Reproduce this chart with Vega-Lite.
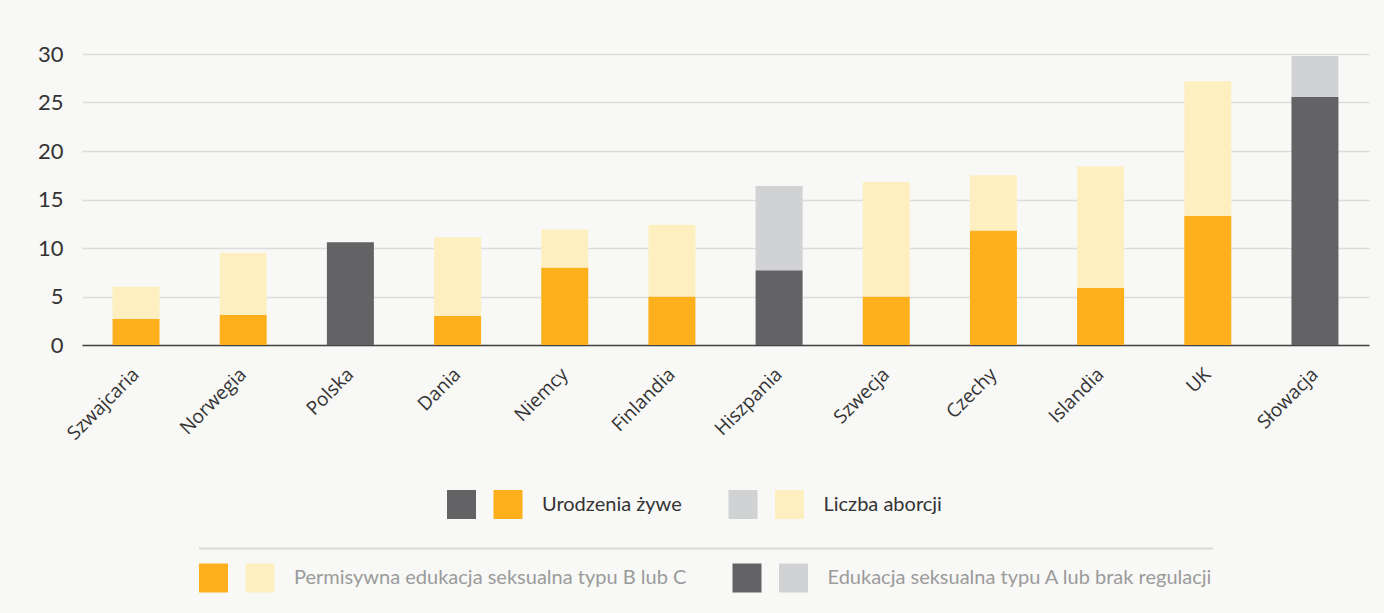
{
  "$schema": "https://vega.github.io/schema/vega-lite/v6.json",
  "autosize": {"type": "none"},
  "width": 1287,
  "height": 291,
  "padding": {"left": 82, "top": 54, "right": 15, "bottom": 268},
  "background": "#F8F8F6",
  "config": {"view": {"stroke": null}, "font": "Lato", "legend": {"strokeWidth": 2, "strokeDash": [0, 14, 1014, 100000]}},
  "data": {
    "values": [
      {"kraj": "Szwajcaria", "typ": "Urodzenia żywe", "grupa": "Permisywna edukacja seksualna typu B lub C", "kat": "BC urodzenia", "wartosc": 2.7},
      {"kraj": "Szwajcaria", "typ": "Liczba aborcji", "grupa": "Permisywna edukacja seksualna typu B lub C", "kat": "BC aborcje", "wartosc": 3.3},
      {"kraj": "Norwegia", "typ": "Urodzenia żywe", "grupa": "Permisywna edukacja seksualna typu B lub C", "kat": "BC urodzenia", "wartosc": 3.1},
      {"kraj": "Norwegia", "typ": "Liczba aborcji", "grupa": "Permisywna edukacja seksualna typu B lub C", "kat": "BC aborcje", "wartosc": 6.4},
      {"kraj": "Polska", "typ": "Urodzenia żywe", "grupa": "Edukacja seksualna typu A lub brak regulacji", "kat": "A urodzenia", "wartosc": 10.6},
      {"kraj": "Polska", "typ": "Liczba aborcji", "grupa": "Edukacja seksualna typu A lub brak regulacji", "kat": "A aborcje", "wartosc": 0},
      {"kraj": "Dania", "typ": "Urodzenia żywe", "grupa": "Permisywna edukacja seksualna typu B lub C", "kat": "BC urodzenia", "wartosc": 3.0},
      {"kraj": "Dania", "typ": "Liczba aborcji", "grupa": "Permisywna edukacja seksualna typu B lub C", "kat": "BC aborcje", "wartosc": 8.1},
      {"kraj": "Niemcy", "typ": "Urodzenia żywe", "grupa": "Permisywna edukacja seksualna typu B lub C", "kat": "BC urodzenia", "wartosc": 8.0},
      {"kraj": "Niemcy", "typ": "Liczba aborcji", "grupa": "Permisywna edukacja seksualna typu B lub C", "kat": "BC aborcje", "wartosc": 3.9},
      {"kraj": "Finlandia", "typ": "Urodzenia żywe", "grupa": "Permisywna edukacja seksualna typu B lub C", "kat": "BC urodzenia", "wartosc": 5.0},
      {"kraj": "Finlandia", "typ": "Liczba aborcji", "grupa": "Permisywna edukacja seksualna typu B lub C", "kat": "BC aborcje", "wartosc": 7.4},
      {"kraj": "Hiszpania", "typ": "Urodzenia żywe", "grupa": "Edukacja seksualna typu A lub brak regulacji", "kat": "A urodzenia", "wartosc": 7.7},
      {"kraj": "Hiszpania", "typ": "Liczba aborcji", "grupa": "Edukacja seksualna typu A lub brak regulacji", "kat": "A aborcje", "wartosc": 8.7},
      {"kraj": "Szwecja", "typ": "Urodzenia żywe", "grupa": "Permisywna edukacja seksualna typu B lub C", "kat": "BC urodzenia", "wartosc": 5.0},
      {"kraj": "Szwecja", "typ": "Liczba aborcji", "grupa": "Permisywna edukacja seksualna typu B lub C", "kat": "BC aborcje", "wartosc": 11.8},
      {"kraj": "Czechy", "typ": "Urodzenia żywe", "grupa": "Permisywna edukacja seksualna typu B lub C", "kat": "BC urodzenia", "wartosc": 11.8},
      {"kraj": "Czechy", "typ": "Liczba aborcji", "grupa": "Permisywna edukacja seksualna typu B lub C", "kat": "BC aborcje", "wartosc": 5.7},
      {"kraj": "Islandia", "typ": "Urodzenia żywe", "grupa": "Permisywna edukacja seksualna typu B lub C", "kat": "BC urodzenia", "wartosc": 5.9},
      {"kraj": "Islandia", "typ": "Liczba aborcji", "grupa": "Permisywna edukacja seksualna typu B lub C", "kat": "BC aborcje", "wartosc": 12.5},
      {"kraj": "UK", "typ": "Urodzenia żywe", "grupa": "Permisywna edukacja seksualna typu B lub C", "kat": "BC urodzenia", "wartosc": 13.3},
      {"kraj": "UK", "typ": "Liczba aborcji", "grupa": "Permisywna edukacja seksualna typu B lub C", "kat": "BC aborcje", "wartosc": 13.9},
      {"kraj": "Słowacja", "typ": "Urodzenia żywe", "grupa": "Edukacja seksualna typu A lub brak regulacji", "kat": "A urodzenia", "wartosc": 25.6},
      {"kraj": "Słowacja", "typ": "Liczba aborcji", "grupa": "Edukacja seksualna typu A lub brak regulacji", "kat": "A aborcje", "wartosc": 4.2}
    ]
  },
  "encoding": {
    "x": {
      "field": "kraj", "type": "nominal", "sort": null,
      "scale": {"paddingInner": 0.5615, "paddingOuter": 0.285},
      "axis": {
        "title": null, "labelAngle": -45, "labelAlign": "right", "labelBaseline": "middle",
        "labelFont": "Open Sans", "labelFontSize": 19, "labelColor": "#333333",
        "ticks": false, "tickSize": 0, "labelPadding": 26,
        "domainColor": "#444444", "domainWidth": 1.5, "grid": false
      }
    },
    "y": {
      "field": "wartosc", "type": "quantitative", "stack": "zero",
      "scale": {"domain": [0, 30], "nice": false},
      "axis": {
        "title": null, "values": [0, 5, 10, 15, 20, 25, 30],
        "labelFont": "Lato", "labelFontSize": 22, "labelColor": "#333333",
        "domain": false, "ticks": false, "tickSize": 0, "labelPadding": 19,
        "gridColor": "#DCDCDC", "gridWidth": 1.5
      }
    },
    "order": {"field": "typ", "sort": "descending"}
  },
  "layer": [
    {
      "mark": {"type": "bar"},
      "encoding": {
        "color": {
          "field": "kat", "type": "nominal",
          "scale": {
            "domain": ["BC urodzenia", "BC aborcje", "A urodzenia", "A aborcje"],
            "range": ["#FDB01C", "#FEEFC0", "#636365", "#D1D2D4"]
          },
          "legend": null
        }
      }
    },
    {
      "transform": [{"filter": "false"}],
      "mark": {"type": "bar"},
      "encoding": {
        "color": {
          "field": "typ", "type": "nominal",
          "scale": {"domain": ["Urodzenia żywe", "Liczba aborcji"], "range": ["#FDB01C", "#FEEFC0"]},
          "legend": {
            "title": null, "orient": "none", "legendX": 365, "legendY": 435, "direction": "horizontal",
            "padding": 0, "symbolType": "M-1,-14.5L-1,14.5L-1,-14.5L31,-14.5L31,14.5L60,14.5L60,-14.5L31,-14.5Z",
            "symbolSize": 4, "symbolStrokeWidth": 29, "symbolDash": [29, 10000], "symbolOpacity": 1,
            "labelOffset": 64, "columnPadding": 2.5, "labelLimit": 800,
            "labelFont": "Lato", "labelFontSize": 20, "labelColor": "#333333"
          }
        },
        "stroke": {
          "field": "typ", "type": "nominal",
          "scale": {"domain": ["Urodzenia żywe", "Liczba aborcji"], "range": ["#636365", "#D1D2D4"]},
          "legend": {
            "title": null, "orient": "none", "legendX": 365, "legendY": 435, "direction": "horizontal",
            "padding": 0, "symbolType": "M-1,-14.5L-1,14.5L-1,-14.5L31,-14.5L31,14.5L60,14.5L60,-14.5L31,-14.5Z",
            "symbolSize": 4, "symbolStrokeWidth": 29, "symbolDash": [29, 10000], "symbolOpacity": 1,
            "labelOffset": 64, "columnPadding": 2.5, "labelLimit": 800,
            "labelFont": "Lato", "labelFontSize": 20, "labelColor": "#333333"
          }
        }
      }
    },
    {
      "transform": [{"filter": "false"}],
      "mark": {"type": "bar"},
      "encoding": {
        "color": {
          "field": "grupa", "type": "nominal",
          "scale": {"domain": ["Permisywna edukacja seksualna typu B lub C", "Edukacja seksualna typu A lub brak regulacji"], "range": ["#FEEFC0", "#D1D2D4"]},
          "legend": {
            "title": null, "orient": "none", "legendX": 103, "legendY": 494.5, "direction": "horizontal",
            "padding": 14, "strokeColor": "#D9D9D9",
            "symbolType": "M-1,-14.5L-1,14.5L-1,-14.5L31,-14.5L31,14.5L60,14.5L60,-14.5L31,-14.5Z",
            "symbolSize": 4, "symbolStrokeWidth": 29, "symbolDash": [29, 10000], "symbolOpacity": 1,
            "labelOffset": 64, "columnPadding": 1.5, "labelLimit": 800,
            "labelFont": "Lato", "labelFontSize": 20, "labelColor": "#9B9B9B"
          }
        },
        "stroke": {
          "field": "grupa", "type": "nominal",
          "scale": {"domain": ["Permisywna edukacja seksualna typu B lub C", "Edukacja seksualna typu A lub brak regulacji"], "range": ["#FDB01C", "#636365"]},
          "legend": {
            "title": null, "orient": "none", "legendX": 103, "legendY": 494.5, "direction": "horizontal",
            "padding": 14, "strokeColor": "#D9D9D9",
            "symbolType": "M-1,-14.5L-1,14.5L-1,-14.5L31,-14.5L31,14.5L60,14.5L60,-14.5L31,-14.5Z",
            "symbolSize": 4, "symbolStrokeWidth": 29, "symbolDash": [29, 10000], "symbolOpacity": 1,
            "labelOffset": 64, "columnPadding": 1.5, "labelLimit": 800,
            "labelFont": "Lato", "labelFontSize": 20, "labelColor": "#9B9B9B"
          }
        }
      }
    }
  ],
  "resolve": {
    "scale": {"color": "independent", "stroke": "independent"}
  }
}
